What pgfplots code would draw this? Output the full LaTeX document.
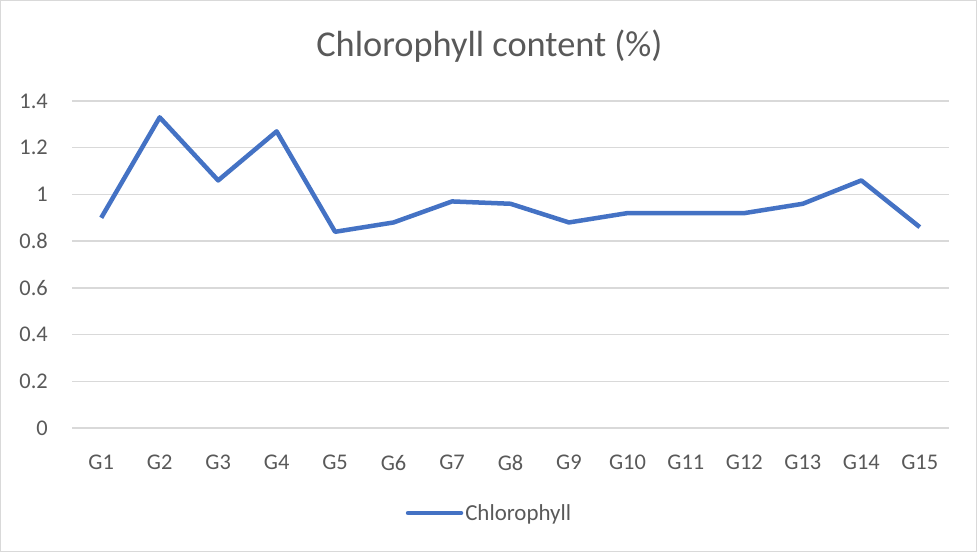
\documentclass[border=0pt]{standalone}
\usepackage{fontspec}
\setmainfont{Carlito}
\usepackage{pgfplots}
\pgfplotsset{compat=1.18}
\definecolor{linecol}{HTML}{4472C4}
\definecolor{gridcol}{HTML}{D9D9D9}
\definecolor{txtcol}{HTML}{595959}
\begin{document}
\begin{tikzpicture}
\path[use as bounding box] (0,0) rectangle (977bp,552bp);
\draw[color=gridcol, line width=1bp] (0.5bp,0.5bp) rectangle (976.5bp,551.5bp);
\node[anchor=base, font=\fontsize{36.5}{42}\selectfont, text=txtcol, inner sep=0pt] at (489.5bp,495bp) {Chlorophyll content (\%)};
\begin{axis}[
  at={(72bp,124bp)}, anchor=south west,
  scale only axis, width=877bp, height=327bp,
  xmin=0.5, xmax=15.5, ymin=0, ymax=1.4,
  xtick={1,2,3,4,5,6,7,8,9,10,11,12,13,14,15},
  xticklabels={G1,G2,G3,G4,G5,G6,G7,G8,G9,G10,G11,G12,G13,G14,G15},
  ytick={0,0.2,0.4,0.6,0.8,1,1.2,1.4},
  yticklabels={0,0.2,0.4,0.6,0.8,1,1.2,1.4},
  /pgf/number format/assume math mode=true,
  axis line style={draw=none},
  major tick length=0pt,
  ymajorgrids, grid style={color=gridcol, line width=1.5bp},
  tick label style={font=\fontsize{22.5}{26}\selectfont, text=txtcol, inner sep=0pt},
  yticklabel style={anchor=east, xshift=-24bp},
  xticklabel style={anchor=north, yshift=-27bp},
  legend style={at={(axis description cs:0.476,-0.26)}, anchor=center, draw=none, fill=none,
    font=\fontsize{23}{27}\selectfont, text=txtcol, inner sep=0pt,
    nodes={inner sep=2bp}},
  legend image code/.code={\draw[#1, line cap=round] (0bp,0bp) -- (53bp,0bp);},
]
\addplot[color=linecol, line width=4.5bp, line join=round] coordinates {
(1,0.90)(2,1.33)(3,1.06)(4,1.27)(5,0.84)(6,0.88)(7,0.97)(8,0.96)
(9,0.88)(10,0.92)(11,0.92)(12,0.92)(13,0.96)(14,1.06)(15,0.86)};
\addlegendentry{Chlorophyll}
\end{axis}
\end{tikzpicture}
\end{document}
